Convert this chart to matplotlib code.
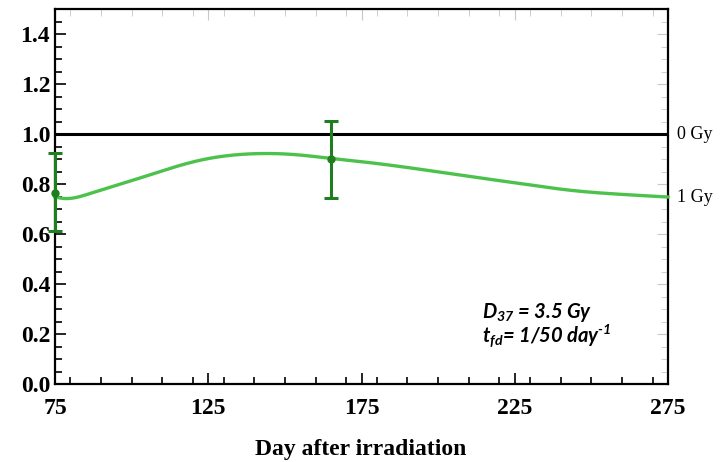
import numpy as np
import matplotlib.pyplot as plt
from matplotlib.ticker import MultipleLocator

plt.rcParams['mathtext.fontset'] = 'custom'
plt.rcParams['mathtext.rm'] = 'Lato:italic:bold'
plt.rcParams['mathtext.it'] = 'Lato:italic:bold'
plt.rcParams['mathtext.default'] = 'rm'

# surviving fraction relative to the 0 Gy control
days = [75, 78, 86.4, 102.7, 122.3, 139.6, 154.9, 165.2, 174.4, 191.8, 209.3, 226.6, 243.9, 259.3, 275]
frac_1gy = [0.748, 0.742, 0.762, 0.824, 0.895, 0.921, 0.916, 0.902, 0.890, 0.863, 0.832, 0.802, 0.774, 0.759, 0.748]

# measured points with error bars
obs_days = [75, 165]
obs_mean = [0.765, 0.900]
obs_low = [0.613, 0.743]
obs_high = [0.925, 1.052]

serif = ['Liberation Serif', 'DejaVu Serif']


def natural_spline(x, y, xs):
    x = np.asarray(x, float)
    y = np.asarray(y, float)
    n = len(x)
    h = np.diff(x)
    A = np.zeros((n, n))
    b = np.zeros(n)
    A[0, 0] = A[-1, -1] = 1
    for i in range(1, n - 1):
        A[i, i - 1] = h[i - 1]
        A[i, i] = 2 * (h[i - 1] + h[i])
        A[i, i + 1] = h[i]
        b[i] = 3 * ((y[i + 1] - y[i]) / h[i] - (y[i] - y[i - 1]) / h[i - 1])
    c = np.linalg.solve(A, b)
    idx = np.clip(np.searchsorted(x, xs) - 1, 0, n - 2)
    dx = xs - x[idx]
    bb = (y[idx + 1] - y[idx]) / h[idx] - h[idx] * (2 * c[idx] + c[idx + 1]) / 3
    d = (c[idx + 1] - c[idx]) / (3 * h[idx])
    return y[idx] + bb * dx + c[idx] * dx ** 2 + d * dx ** 3


fig = plt.figure(figsize=(7.22, 4.62), dpi=100)
ax = fig.add_axes([0.0762, 0.1688, 0.849, 0.8117])

xs = np.linspace(75, 275, 500)
ax.plot(xs, natural_spline(days, frac_1gy, xs), color='#4cc24c', lw=2.4, zorder=3, clip_on=False)

ax.axhline(1.0, color='black', lw=2.2, zorder=3)

yerr = [np.array(obs_mean) - np.array(obs_low), np.array(obs_high) - np.array(obs_mean)]
ax.errorbar(obs_days, obs_mean, yerr=yerr, fmt='o', color='#1f7f1f', ms=5,
            elinewidth=2.2, capsize=5, capthick=2.2, zorder=4, clip_on=False)

ax.set_xlim(75, 275)
ax.set_ylim(0, 1.5)
ax.set_xticks([75, 125, 175, 225, 275])
ax.xaxis.set_minor_locator(MultipleLocator(10))
ax.set_yticks([0.0, 0.2, 0.4, 0.6, 0.8, 1.0, 1.2, 1.4])
ax.yaxis.set_minor_locator(MultipleLocator(0.05))
ax.set_yticklabels(['%.1f' % v for v in ax.get_yticks()])

ax.tick_params(which='both', direction='in', width=1.2)
ax.tick_params(which='major', length=8)
ax.tick_params(which='minor', length=5)
ax.tick_params(axis='x', which='major', pad=10)

# faint ticks on the top and right edges
for loc, sec in (('top', ax.secondary_xaxis('top')), ('right', ax.secondary_yaxis('right'))):
    sec.tick_params(which='both', direction='in', color='#c8c8c8', labelleft=False,
                    labelright=False, labeltop=False, labelbottom=False)
    sec.tick_params(which='major', length=8)
    sec.tick_params(which='minor', length=5)
    if loc == 'top':
        sec.set_xticks([75, 125, 175, 225, 275])
        sec.xaxis.set_minor_locator(MultipleLocator(10))
    else:
        sec.set_yticks([0.0, 0.2, 0.4, 0.6, 0.8, 1.0, 1.2, 1.4])
        sec.yaxis.set_minor_locator(MultipleLocator(0.05))
    for sp in sec.spines.values():
        sp.set_visible(False)

for lab in ax.get_xticklabels() + ax.get_yticklabels():
    lab.set_fontfamily(serif)
    lab.set_fontweight('bold')
    lab.set_fontsize(17)

for sp in ax.spines.values():
    sp.set_linewidth(1.6)

fig.text(0.499, 0.028, 'Day after irradiation', fontfamily=serif, fontweight='bold',
         fontsize=17, ha='center', va='center')

ax.text(1.014, 1.0, '0 Gy', transform=ax.get_yaxis_transform(), fontfamily=serif,
        fontsize=13, va='center', ha='left')
ax.text(1.014, frac_1gy[-1], '1 Gy', transform=ax.get_yaxis_transform(), fontfamily=serif,
        fontsize=13, va='center', ha='left')

ann = dict(fontfamily=['Lato', 'DejaVu Sans'], fontweight='bold', fontstyle='italic', fontsize=14.5)
ax.text(0.697, 0.175, 'D$_{37}$ = 3.5 Gy', transform=ax.transAxes, **ann)
ax.text(0.697, 0.108, 't$_{fd}$= 1/50 day$^{\\text{-}1}$', transform=ax.transAxes, **ann)

fig.savefig('out.png', dpi=100)
